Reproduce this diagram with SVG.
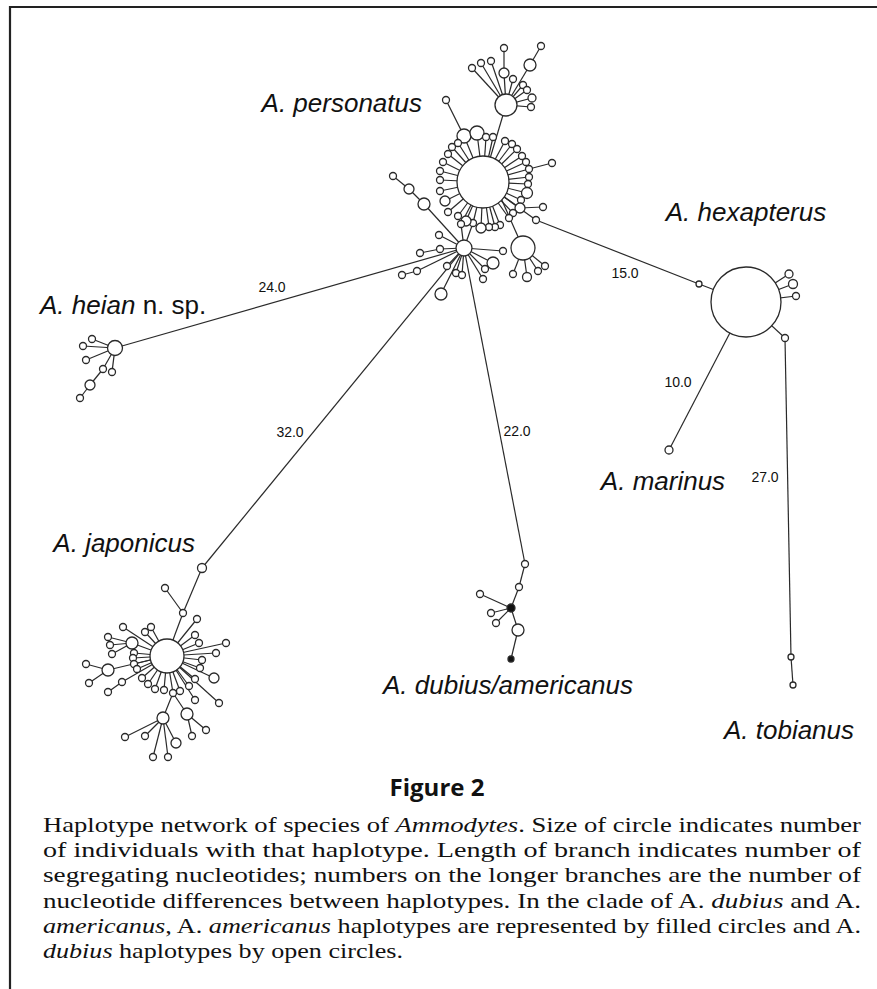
<svg xmlns="http://www.w3.org/2000/svg" width="877" height="989" viewBox="0 0 877 989">
<style>
.c line{stroke:#2a2a2a;stroke-width:1.2}
.n circle{fill:#fff;stroke:#2a2a2a;stroke-width:1.3}
.n circle.f{fill:#111}
.sp{font-family:"Liberation Sans",Arial,sans-serif;font-style:italic;font-size:26px;fill:#111}
.num{font-family:"Liberation Sans",Arial,sans-serif;font-size:14px;fill:#111}
.cap{font-family:"Liberation Serif","Times New Roman",serif;font-size:22px;fill:#111}
.it{font-style:italic}
</style>
<rect width="877" height="989" fill="#fff"/>
<g id="frame" stroke="#222" stroke-width="2.2" fill="none">
<line x1="9" y1="7" x2="877" y2="7"/>
<line x1="10" y1="6" x2="10" y2="989"/>
</g>
<g id="connectors" class="c">
<line x1="483" y1="182" x2="464" y2="136"/><line x1="464" y1="136" x2="446" y2="100"/>
<line x1="483" y1="182" x2="477" y2="133"/>
<line x1="483" y1="182" x2="486" y2="137"/>
<line x1="483" y1="182" x2="493" y2="137"/>
<line x1="483" y1="182" x2="505" y2="141"/>
<line x1="483" y1="182" x2="512" y2="144"/>
<line x1="483" y1="182" x2="517" y2="149"/>
<line x1="483" y1="182" x2="522" y2="156"/>
<line x1="483" y1="182" x2="526" y2="162"/>
<line x1="483" y1="182" x2="529" y2="169"/><line x1="529" y1="169" x2="552" y2="163"/>
<line x1="483" y1="182" x2="529" y2="177"/>
<line x1="483" y1="182" x2="528" y2="184"/>
<line x1="483" y1="182" x2="527" y2="193"/>
<line x1="483" y1="182" x2="521" y2="200"/>
<line x1="483" y1="182" x2="520" y2="208"/><line x1="520" y1="208" x2="543" y2="207"/>
<line x1="483" y1="182" x2="513" y2="213"/>
<line x1="483" y1="182" x2="509" y2="218"/>
<line x1="483" y1="182" x2="500" y2="225"/>
<line x1="483" y1="182" x2="495" y2="227"/>
<line x1="483" y1="182" x2="489" y2="227"/>
<line x1="483" y1="182" x2="481" y2="228"/>
<line x1="483" y1="182" x2="473" y2="223"/>
<line x1="483" y1="182" x2="466" y2="221"/>
<line x1="483" y1="182" x2="461" y2="224"/>
<line x1="483" y1="182" x2="458" y2="216"/>
<line x1="483" y1="182" x2="448" y2="212"/>
<line x1="483" y1="182" x2="445" y2="201"/>
<line x1="483" y1="182" x2="440" y2="191"/>
<line x1="483" y1="182" x2="440" y2="180"/>
<line x1="483" y1="182" x2="440" y2="171"/>
<line x1="483" y1="182" x2="443" y2="162"/>
<line x1="483" y1="182" x2="448" y2="154"/>
<line x1="483" y1="182" x2="452" y2="147"/>
<line x1="483" y1="182" x2="458" y2="143"/>
<line x1="483" y1="182" x2="536" y2="220"/>
<line x1="497" y1="189" x2="523" y2="248"/>
<line x1="483" y1="182" x2="506" y2="105"/>
<line x1="506" y1="105" x2="472" y2="68"/>
<line x1="506" y1="105" x2="481" y2="63"/>
<line x1="506" y1="105" x2="491" y2="61"/>
<line x1="506" y1="105" x2="504" y2="73"/><line x1="504" y1="73" x2="504" y2="48"/>
<line x1="506" y1="105" x2="513" y2="79"/>
<line x1="506" y1="105" x2="523" y2="85"/>
<line x1="506" y1="105" x2="527" y2="90"/>
<line x1="506" y1="105" x2="532" y2="98"/>
<line x1="506" y1="105" x2="531" y2="107"/>
<line x1="506" y1="105" x2="530" y2="65"/><line x1="530" y1="65" x2="541" y2="46"/>
<line x1="464" y1="248" x2="461" y2="224"/>
<line x1="464" y1="248" x2="473" y2="223"/>
<line x1="464" y1="248" x2="424" y2="204"/><line x1="424" y1="204" x2="409" y2="189"/><line x1="409" y1="189" x2="393" y2="176"/>
<line x1="464" y1="248" x2="439" y2="235"/>
<line x1="464" y1="248" x2="440" y2="249"/><line x1="440" y1="249" x2="420" y2="253"/>
<line x1="464" y1="248" x2="417" y2="271"/><line x1="417" y1="271" x2="402" y2="275"/>
<line x1="464" y1="248" x2="447" y2="266"/>
<line x1="464" y1="248" x2="456" y2="273"/>
<line x1="464" y1="248" x2="462" y2="275"/>
<line x1="464" y1="248" x2="441" y2="294"/>
<line x1="464" y1="248" x2="483" y2="279"/>
<line x1="464" y1="248" x2="485" y2="269"/>
<line x1="464" y1="248" x2="493" y2="263"/>
<line x1="464" y1="248" x2="503" y2="251"/>
<line x1="523" y1="248" x2="513" y2="274"/>
<line x1="523" y1="248" x2="527" y2="277"/>
<line x1="523" y1="248" x2="538" y2="271"/>
<line x1="523" y1="248" x2="545" y2="266"/>
<line x1="464" y1="248" x2="115" y2="348"/>
<line x1="464" y1="248" x2="202" y2="568"/>
<line x1="464" y1="248" x2="525" y2="564"/>
<line x1="536" y1="220" x2="699" y2="284"/>
<line x1="699" y1="284" x2="746" y2="302"/>
<line x1="746" y1="302" x2="669" y2="450"/>
<line x1="746" y1="302" x2="785" y2="338"/>
<line x1="785" y1="338" x2="791" y2="657"/>
<line x1="791" y1="657" x2="793" y2="685"/>
<line x1="746" y1="302" x2="789" y2="274"/>
<line x1="746" y1="302" x2="793" y2="284"/>
<line x1="746" y1="302" x2="796" y2="296"/>
<line x1="115" y1="348" x2="92" y2="339"/>
<line x1="115" y1="348" x2="83" y2="346"/>
<line x1="115" y1="348" x2="86" y2="360"/>
<line x1="115" y1="348" x2="103" y2="369"/><line x1="103" y1="369" x2="90" y2="385"/><line x1="90" y1="385" x2="80" y2="398"/>
<line x1="115" y1="348" x2="112" y2="372"/>
<line x1="202" y1="568" x2="183" y2="613"/>
<line x1="183" y1="613" x2="165" y2="588"/>
<line x1="183" y1="613" x2="167" y2="656"/>
<line x1="167" y1="656" x2="123" y2="627"/>
<line x1="167" y1="656" x2="151" y2="627"/>
<line x1="167" y1="656" x2="145" y2="632"/>
<line x1="167" y1="656" x2="132" y2="643"/>
<line x1="132" y1="643" x2="108" y2="637"/>
<line x1="132" y1="643" x2="110" y2="645"/>
<line x1="132" y1="643" x2="112" y2="654"/>
<line x1="167" y1="656" x2="134" y2="653"/>
<line x1="167" y1="656" x2="133" y2="658"/>
<line x1="167" y1="656" x2="134" y2="664"/>
<line x1="167" y1="656" x2="137" y2="669"/>
<line x1="167" y1="656" x2="108" y2="670"/>
<line x1="108" y1="670" x2="86" y2="664"/>
<line x1="108" y1="670" x2="89" y2="683"/>
<line x1="167" y1="656" x2="122" y2="682"/><line x1="122" y1="682" x2="108" y2="692"/>
<line x1="167" y1="656" x2="142" y2="678"/>
<line x1="167" y1="656" x2="148" y2="684"/>
<line x1="167" y1="656" x2="155" y2="689"/>
<line x1="167" y1="656" x2="164" y2="690"/>
<line x1="167" y1="656" x2="173" y2="693"/>
<line x1="173" y1="693" x2="163" y2="718"/>
<line x1="173" y1="693" x2="187" y2="714"/>
<line x1="167" y1="656" x2="180" y2="691"/>
<line x1="167" y1="656" x2="189" y2="686"/>
<line x1="167" y1="656" x2="195" y2="679"/>
<line x1="167" y1="656" x2="195" y2="700"/>
<line x1="167" y1="656" x2="219" y2="703"/>
<line x1="167" y1="656" x2="214" y2="678"/>
<line x1="167" y1="656" x2="200" y2="668"/>
<line x1="167" y1="656" x2="202" y2="660"/>
<line x1="167" y1="656" x2="216" y2="653"/>
<line x1="167" y1="656" x2="226" y2="643"/>
<line x1="167" y1="656" x2="199" y2="643"/>
<line x1="167" y1="656" x2="195" y2="635"/>
<line x1="167" y1="656" x2="197" y2="619"/>
<line x1="163" y1="718" x2="125" y2="737"/>
<line x1="163" y1="718" x2="145" y2="736"/>
<line x1="163" y1="718" x2="176" y2="743"/>
<line x1="163" y1="718" x2="153" y2="757"/>
<line x1="163" y1="718" x2="168" y2="757"/>
<line x1="187" y1="714" x2="192" y2="736"/>
<line x1="187" y1="714" x2="206" y2="730"/>
<line x1="525" y1="564" x2="519" y2="587"/>
<line x1="519" y1="587" x2="511" y2="608"/>
<line x1="511" y1="608" x2="480" y2="594"/>
<line x1="511" y1="608" x2="491" y2="613"/>
<line x1="511" y1="608" x2="496" y2="623"/>
<line x1="511" y1="608" x2="518" y2="630"/>
<line x1="518" y1="630" x2="511" y2="659"/>
</g>
<g class="n">
<g id="personatus-hub"><circle cx="483" cy="182" r="26"/></g>
<g id="p1"><circle cx="464" cy="136" r="7"/></g>
<g id="p1a"><circle cx="446" cy="100" r="3.5"/></g>
<g id="p2"><circle cx="477" cy="133" r="7"/></g>
<g id="p3"><circle cx="486" cy="137" r="3.5"/></g>
<g id="p4"><circle cx="493" cy="137" r="3.5"/></g>
<g id="p5"><circle cx="505" cy="141" r="3.5"/></g>
<g id="p6"><circle cx="512" cy="144" r="3.5"/></g>
<g id="p7"><circle cx="517" cy="149" r="3.5"/></g>
<g id="p8"><circle cx="522" cy="156" r="3.5"/></g>
<g id="p9"><circle cx="526" cy="162" r="3.5"/></g>
<g id="p10"><circle cx="529" cy="169" r="3.5"/></g>
<g id="p10a"><circle cx="552" cy="163" r="3.5"/></g>
<g id="p11"><circle cx="529" cy="177" r="3.5"/></g>
<g id="p12"><circle cx="528" cy="184" r="3.5"/></g>
<g id="p13"><circle cx="527" cy="193" r="5.5"/></g>
<g id="p14"><circle cx="521" cy="200" r="3.5"/></g>
<g id="p15"><circle cx="520" cy="208" r="5"/></g>
<g id="p15a"><circle cx="543" cy="207" r="3.5"/></g>
<g id="p16"><circle cx="513" cy="213" r="3.5"/></g>
<g id="p17"><circle cx="509" cy="218" r="3.5"/></g>
<g id="p18"><circle cx="500" cy="225" r="3.5"/></g>
<g id="p19"><circle cx="495" cy="227" r="3.5"/></g>
<g id="p20"><circle cx="489" cy="227" r="3.5"/></g>
<g id="p21"><circle cx="481" cy="228" r="5"/></g>
<g id="p22"><circle cx="473" cy="223" r="3.5"/></g>
<g id="p23"><circle cx="466" cy="221" r="5"/></g>
<g id="p24"><circle cx="461" cy="224" r="3.5"/></g>
<g id="p25"><circle cx="458" cy="216" r="3.5"/></g>
<g id="p26"><circle cx="448" cy="212" r="3.5"/></g>
<g id="p27"><circle cx="445" cy="201" r="5"/></g>
<g id="p28"><circle cx="440" cy="191" r="3.5"/></g>
<g id="p29"><circle cx="440" cy="180" r="3.5"/></g>
<g id="p30"><circle cx="440" cy="171" r="3.5"/></g>
<g id="p31"><circle cx="443" cy="162" r="3.5"/></g>
<g id="p32"><circle cx="448" cy="154" r="3.5"/></g>
<g id="p33"><circle cx="452" cy="147" r="3.5"/></g>
<g id="p34"><circle cx="458" cy="143" r="3.5"/></g>
<g id="phx"><circle cx="536" cy="220" r="3.5"/></g>
<g id="upper-hub"><circle cx="506" cy="105" r="11"/></g>
<g id="u1"><circle cx="472" cy="68" r="3.5"/></g>
<g id="u2"><circle cx="481" cy="63" r="3.5"/></g>
<g id="u3"><circle cx="491" cy="61" r="3.5"/></g>
<g id="u4"><circle cx="504" cy="73" r="5"/></g>
<g id="u4a"><circle cx="504" cy="48" r="3.5"/></g>
<g id="u5"><circle cx="513" cy="79" r="3.5"/></g>
<g id="u6"><circle cx="523" cy="85" r="3.5"/></g>
<g id="u7"><circle cx="527" cy="90" r="3.5"/></g>
<g id="u8"><circle cx="532" cy="98" r="4"/></g>
<g id="u9"><circle cx="531" cy="107" r="3.5"/></g>
<g id="u10"><circle cx="530" cy="65" r="6"/></g>
<g id="u10a"><circle cx="541" cy="46" r="3.5"/></g>
<g id="junction"><circle cx="464" cy="248" r="8"/></g>
<g id="j1"><circle cx="424" cy="204" r="6"/></g>
<g id="j1a"><circle cx="409" cy="189" r="5"/></g>
<g id="j1b"><circle cx="393" cy="176" r="3.5"/></g>
<g id="j2"><circle cx="439" cy="235" r="3.5"/></g>
<g id="j3"><circle cx="440" cy="249" r="3.5"/></g>
<g id="j3a"><circle cx="420" cy="253" r="3.5"/></g>
<g id="j4"><circle cx="417" cy="271" r="3.5"/></g>
<g id="j4a"><circle cx="402" cy="275" r="3.5"/></g>
<g id="j5"><circle cx="447" cy="266" r="3.5"/></g>
<g id="j6"><circle cx="456" cy="273" r="3.5"/></g>
<g id="j7"><circle cx="462" cy="275" r="3.5"/></g>
<g id="j8"><circle cx="441" cy="294" r="6"/></g>
<g id="j9"><circle cx="483" cy="279" r="3.5"/></g>
<g id="j10"><circle cx="485" cy="269" r="3.5"/></g>
<g id="j11"><circle cx="493" cy="263" r="6"/></g>
<g id="j12"><circle cx="503" cy="251" r="3.5"/></g>
<g id="b-hub"><circle cx="523" cy="248" r="12"/></g>
<g id="b1"><circle cx="513" cy="274" r="3.5"/></g>
<g id="b2"><circle cx="527" cy="277" r="4.5"/></g>
<g id="b3"><circle cx="538" cy="271" r="3.5"/></g>
<g id="b4"><circle cx="545" cy="266" r="3.5"/></g>
<g id="heian-hub"><circle cx="115" cy="348" r="7.5"/></g>
<g id="h1"><circle cx="92" cy="339" r="3.5"/></g>
<g id="h2"><circle cx="83" cy="346" r="3.5"/></g>
<g id="h3"><circle cx="86" cy="360" r="3.5"/></g>
<g id="h4"><circle cx="103" cy="369" r="3.5"/></g>
<g id="h5"><circle cx="90" cy="385" r="5"/></g>
<g id="h6"><circle cx="80" cy="398" r="3.5"/></g>
<g id="h7"><circle cx="112" cy="372" r="3.5"/></g>
<g id="ja"><circle cx="202" cy="568" r="4.5"/></g>
<g id="jb"><circle cx="183" cy="613" r="3.5"/></g>
<g id="jc"><circle cx="165" cy="588" r="3.5"/></g>
<g id="japonicus-hub"><circle cx="167" cy="656" r="17"/></g>
<g id="k1"><circle cx="123" cy="627" r="3.5"/></g>
<g id="k2"><circle cx="151" cy="627" r="3.5"/></g>
<g id="k3"><circle cx="145" cy="632" r="3.5"/></g>
<g id="k4"><circle cx="132" cy="643" r="6"/></g>
<g id="k4a"><circle cx="108" cy="637" r="3.5"/></g>
<g id="k4b"><circle cx="110" cy="645" r="3.5"/></g>
<g id="k4c"><circle cx="112" cy="654" r="3.5"/></g>
<g id="k5"><circle cx="134" cy="653" r="3.5"/></g>
<g id="k6"><circle cx="133" cy="658" r="3.5"/></g>
<g id="k7"><circle cx="134" cy="664" r="3.5"/></g>
<g id="k8"><circle cx="137" cy="669" r="3.5"/></g>
<g id="k9"><circle cx="108" cy="670" r="6"/></g>
<g id="k9a"><circle cx="86" cy="664" r="3.5"/></g>
<g id="k9b"><circle cx="89" cy="683" r="3.5"/></g>
<g id="k10"><circle cx="122" cy="682" r="3.5"/></g>
<g id="k10a"><circle cx="108" cy="692" r="3.5"/></g>
<g id="k11"><circle cx="142" cy="678" r="3.5"/></g>
<g id="k12"><circle cx="148" cy="684" r="3.5"/></g>
<g id="k13"><circle cx="155" cy="689" r="3.5"/></g>
<g id="k14"><circle cx="164" cy="690" r="3.5"/></g>
<g id="k15"><circle cx="173" cy="693" r="3.5"/></g>
<g id="k16"><circle cx="180" cy="691" r="3.5"/></g>
<g id="k17"><circle cx="189" cy="686" r="3.5"/></g>
<g id="k18"><circle cx="195" cy="679" r="3.5"/></g>
<g id="k19"><circle cx="195" cy="700" r="3.5"/></g>
<g id="k20"><circle cx="219" cy="703" r="3.5"/></g>
<g id="k21"><circle cx="214" cy="678" r="5"/></g>
<g id="k22"><circle cx="200" cy="668" r="3.5"/></g>
<g id="k23"><circle cx="202" cy="660" r="3.5"/></g>
<g id="k24"><circle cx="216" cy="653" r="3.5"/></g>
<g id="k25"><circle cx="226" cy="643" r="3.5"/></g>
<g id="k26"><circle cx="199" cy="643" r="3.5"/></g>
<g id="k27"><circle cx="195" cy="635" r="3.5"/></g>
<g id="k28"><circle cx="197" cy="619" r="3.5"/></g>
<g id="jl-hub"><circle cx="163" cy="718" r="6"/></g>
<g id="l1"><circle cx="125" cy="737" r="3.5"/></g>
<g id="l2"><circle cx="145" cy="736" r="3.5"/></g>
<g id="l3"><circle cx="176" cy="743" r="5"/></g>
<g id="l4"><circle cx="153" cy="757" r="3.5"/></g>
<g id="l5"><circle cx="168" cy="757" r="3.5"/></g>
<g id="jm-hub"><circle cx="187" cy="714" r="6"/></g>
<g id="m1"><circle cx="192" cy="736" r="3.5"/></g>
<g id="m2"><circle cx="206" cy="730" r="3.5"/></g>
<g id="d1"><circle cx="525" cy="564" r="3.5"/></g>
<g id="d2"><circle cx="519" cy="587" r="3.5"/></g>
<g id="dA"><circle class="f" cx="511" cy="608" r="4"/></g>
<g id="d3"><circle cx="480" cy="594" r="3.5"/></g>
<g id="d4"><circle cx="491" cy="613" r="3.5"/></g>
<g id="d5"><circle cx="496" cy="623" r="3.5"/></g>
<g id="d6"><circle cx="518" cy="630" r="6"/></g>
<g id="dB"><circle class="f" cx="511" cy="659" r="3"/></g>
<g id="h0"><circle cx="699" cy="284" r="3"/></g>
<g id="hexapterus-hub"><circle cx="746" cy="302" r="35"/></g>
<g id="x1"><circle cx="789" cy="274" r="4"/></g>
<g id="x2"><circle cx="793" cy="284" r="4.5"/></g>
<g id="x3"><circle cx="796" cy="296" r="3.5"/></g>
<g id="x4"><circle cx="785" cy="338" r="3.5"/></g>
<g id="marinus"><circle cx="669" cy="450" r="4"/></g>
<g id="t1"><circle cx="791" cy="657" r="3"/></g>
<g id="t2"><circle cx="793" cy="685" r="3"/></g>
</g>
<g id="labels">
<text class="sp" x="422" y="112" text-anchor="end">A. personatus</text>
<text class="sp" x="746" y="221" text-anchor="middle">A. hexapterus</text>
<text class="sp" x="40" y="314">A. heian<tspan font-style="normal"> n. sp.</tspan></text>
<text class="sp" x="195" y="552" text-anchor="end">A. japonicus</text>
<text class="sp" x="663" y="490" text-anchor="middle">A. marinus</text>
<text class="sp" x="508" y="694" text-anchor="middle">A. dubius/americanus</text>
<text class="sp" x="789" y="739" text-anchor="middle">A. tobianus</text>
<text class="num" x="272" y="292" text-anchor="middle">24.0</text>
<text class="num" x="625" y="278" text-anchor="middle">15.0</text>
<text class="num" x="290" y="437" text-anchor="middle">32.0</text>
<text class="num" x="517" y="436" text-anchor="middle">22.0</text>
<text class="num" x="678" y="387" text-anchor="middle">10.0</text>
<text class="num" x="765" y="482" text-anchor="middle">27.0</text>
</g>
<g id="caption">
<text x="437" y="796" text-anchor="middle" font-family="'Open Sans','Liberation Sans',sans-serif" font-weight="bold" font-size="24" fill="#111">Figure 2</text>
<text class="cap" x="43" y="832" textLength="818" lengthAdjust="spacingAndGlyphs">Haplotype network of species of <tspan class="it">Ammodytes</tspan>. Size of circle indicates number</text>
<text class="cap" x="43" y="857.2" textLength="818" lengthAdjust="spacingAndGlyphs">of individuals with that haplotype. Length of branch indicates number of</text>
<text class="cap" x="43" y="882.4" textLength="818" lengthAdjust="spacingAndGlyphs">segregating nucleotides; numbers on the longer branches are the number of</text>
<text class="cap" x="43" y="907.6" textLength="818" lengthAdjust="spacingAndGlyphs">nucleotide differences between haplotypes. In the clade of A. <tspan class="it">dubius</tspan> and A.</text>
<text class="cap" x="43" y="932.8" textLength="818" lengthAdjust="spacingAndGlyphs"><tspan class="it">americanus</tspan>, A. <tspan class="it">americanus</tspan> haplotypes are represented by filled circles and A.</text>
<text class="cap" x="43" y="958" textLength="360" lengthAdjust="spacingAndGlyphs"><tspan class="it">dubius</tspan> haplotypes by open circles.</text>
</g>
</svg>
